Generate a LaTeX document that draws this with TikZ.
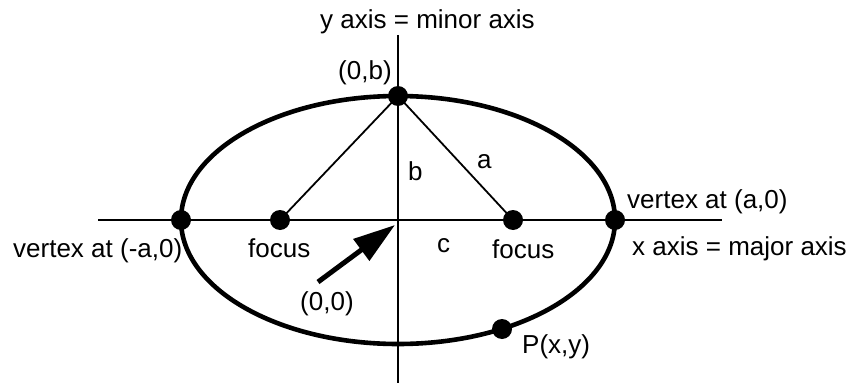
\documentclass[tikz,border=0pt]{standalone}
\usepackage{fontspec}
\setmainfont{Liberation Sans}
\usetikzlibrary{arrows.meta}
\begin{document}
\begin{tikzpicture}[x=1pt,y=-1pt,
  dot/.style={circle,fill=black,inner sep=0pt,minimum size=20pt},
  lbl/.style={anchor=base west,inner sep=0pt,font=\fontsize{26}{30}\selectfont},
  axisline/.style={line width=2.6pt},
  thinline/.style={line width=1.8pt},
  curve/.style={line width=4.6pt}]
\useasboundingbox (0,0) rectangle (856,385);
% axes
\coordinate (xl) at (98,220);
\coordinate (xr) at (722,220);
\coordinate (yt) at (398,35);
\coordinate (yb) at (398,383);
\draw[axisline] (xl) -- (xr);
\draw[axisline] (yt) -- (yb);
% ellipse
\draw[curve] (398,220) ellipse [x radius=217pt, y radius=124pt];
% points
\node[dot] (top) at (398,96) {};
\node[dot] (vl) at (181,220) {};
\node[dot] (vr) at (615,220) {};
\node[dot] (fl) at (280,220) {};
\node[dot] (fr) at (513,220) {};
\node[dot] (p) at (502,329) {};
% focal lines
\draw[thinline] (top.center) -- (fl.center);
\draw[thinline] (top.center) -- (fr.center);
% arrow to origin
\coordinate (o) at (395,225);
\coordinate (tail) at (318,282);
\draw[line width=5pt,-{Triangle[length=42pt,width=26pt]}] (tail) -- (o);
% labels
\node[lbl] (ty) at (320,29) {y axis = minor axis};
\node[lbl] (t0b) at (338,80) {(0,b)};
\node[lbl] (tb) at (408,180) {b};
\node[lbl] (ta) at (477,168) {a};
\node[lbl] (tc) at (437,252) {c};
\node[lbl] (tvr) at (627,208) {vertex at (a,0)};
\node[lbl] (tx) at (632,255) {x axis = major axis};
\node[lbl] (tfr) at (492,258) {focus};
\node[lbl] (tfl) at (248,257) {focus};
\node[lbl] (tvl) at (13,257) {vertex at (-a,0)};
\node[lbl] (t00) at (300,310) {(0,0)};
\node[lbl] (tp) at (522,353) {P(x,y)};
\end{tikzpicture}
\end{document}
